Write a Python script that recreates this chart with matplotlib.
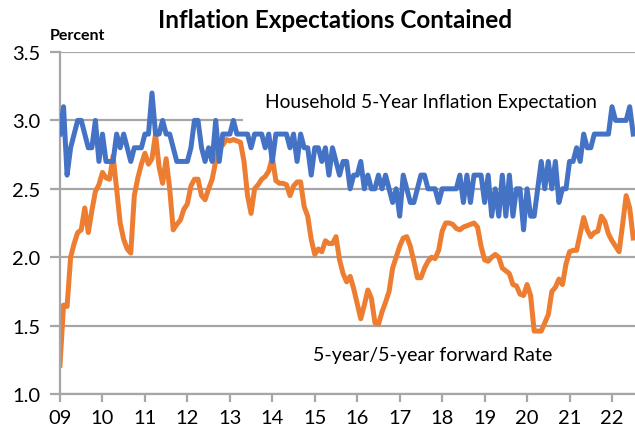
import numpy as np
import matplotlib
matplotlib.use('Agg')
import matplotlib.pyplot as plt
from matplotlib.patches import Rectangle

plt.rcParams['font.family'] = ['Lato', 'DejaVu Sans']

# monthly data, Jan 2009 .. Jul 2022
household = [
    2.9, 3.1, 2.6, 2.8, 2.9, 3.0, 3.0, 2.9, 2.8, 2.8, 3.0, 2.7,   # 2009
    2.9, 2.7, 2.7, 2.7, 2.9, 2.8, 2.9, 2.8, 2.7, 2.8, 2.8, 2.8,   # 2010
    2.9, 2.9, 3.2, 2.9, 2.9, 3.0, 2.9, 2.9, 2.8, 2.7, 2.7, 2.7,   # 2011
    2.7, 2.8, 3.0, 3.0, 2.8, 2.7, 2.8, 2.7, 3.0, 2.7, 2.9, 2.9,   # 2012
    2.9, 3.0, 2.9, 2.9, 2.9, 2.9, 2.8, 2.9, 2.9, 2.9, 2.8, 2.9,   # 2013
    2.7, 2.9, 2.9, 2.9, 2.9, 2.8, 2.9, 2.7, 2.9, 2.8, 2.8, 2.6,   # 2014
    2.8, 2.8, 2.7, 2.8, 2.6, 2.8, 2.7, 2.6, 2.7, 2.7, 2.5, 2.6,   # 2015
    2.6, 2.7, 2.5, 2.6, 2.5, 2.5, 2.6, 2.5, 2.6, 2.5, 2.4, 2.5,   # 2016
    2.3, 2.6, 2.5, 2.4, 2.4, 2.5, 2.6, 2.6, 2.5, 2.5, 2.5, 2.4,   # 2017
    2.5, 2.5, 2.5, 2.5, 2.5, 2.6, 2.4, 2.6, 2.4, 2.6, 2.6, 2.6,   # 2018
    2.4, 2.6, 2.3, 2.5, 2.3, 2.6, 2.3, 2.6, 2.3, 2.5, 2.5, 2.2,   # 2019
    2.5, 2.3, 2.3, 2.5, 2.7, 2.5, 2.7, 2.5, 2.7, 2.4, 2.5, 2.5,   # 2020
    2.7, 2.7, 2.8, 2.7, 2.9, 2.8, 2.8, 2.9, 2.9, 2.9, 2.9, 2.9,   # 2021
    3.1, 3.0, 3.0, 3.0, 3.0, 3.1, 2.9,                            # 2022
]
forward = [
    1.21, 1.65, 1.64, 2.00, 2.10, 2.18, 2.20, 2.36, 2.18, 2.34, 2.48, 2.53,   # 2009
    2.62, 2.58, 2.57, 2.74, 2.50, 2.25, 2.13, 2.06, 2.03, 2.45, 2.58, 2.68,   # 2010
    2.76, 2.68, 2.72, 2.90, 2.66, 2.54, 2.72, 2.50, 2.20, 2.24, 2.27, 2.35,   # 2011
    2.39, 2.52, 2.57, 2.57, 2.45, 2.42, 2.50, 2.57, 2.70, 2.81, 2.82, 2.86,   # 2012
    2.85, 2.86, 2.85, 2.84, 2.70, 2.45, 2.32, 2.50, 2.53, 2.57, 2.59, 2.63,   # 2013
    2.73, 2.56, 2.54, 2.54, 2.53, 2.45, 2.52, 2.55, 2.55, 2.37, 2.30, 2.13,   # 2014
    2.02, 2.06, 2.04, 2.12, 2.10, 2.10, 2.15, 1.98, 1.88, 1.82, 1.86, 1.77,   # 2015
    1.66, 1.55, 1.65, 1.76, 1.70, 1.52, 1.51, 1.60, 1.67, 1.75, 1.92, 2.00,   # 2016
    2.08, 2.14, 2.15, 2.08, 1.97, 1.85, 1.85, 1.92, 1.97, 2.00, 1.99, 2.05,   # 2017
    2.19, 2.25, 2.25, 2.24, 2.21, 2.20, 2.22, 2.23, 2.24, 2.25, 2.22, 2.08,   # 2018
    1.98, 1.97, 2.00, 2.02, 2.00, 1.92, 1.90, 1.88, 1.80, 1.79, 1.73, 1.72,   # 2019
    1.80, 1.72, 1.46, 1.46, 1.46, 1.52, 1.58, 1.75, 1.78, 1.84, 1.80, 1.95,   # 2020
    2.04, 2.05, 2.05, 2.17, 2.29, 2.20, 2.15, 2.18, 2.19, 2.30, 2.26, 2.17,   # 2021
    2.12, 2.08, 2.04, 2.24, 2.45, 2.36, 2.14,                                 # 2022
]
years = list(range(2009, 2023))
year_labels = ['%02d' % (y % 100) for y in years]

t = 2009 + np.arange(len(household)) / 12.0

fig = plt.figure(figsize=(6.35, 4.31), dpi=100)
ax = fig.add_axes([60 / 635, 36 / 431, 575 / 635, 342 / 431])

grid_c = '#a6a6a6'
ax.set_ylim(1.0, 3.5)
ax.set_xlim(2009, 2009 + 162.5 / 12)
ax.set_yticks([1.0, 1.5, 2.0, 2.5, 3.0, 3.5])
ax.set_yticklabels(['%.1f' % v for v in [1.0, 1.5, 2.0, 2.5, 3.0, 3.5]], fontsize=14.5)
ax.set_xticks(years)
ax.set_xticklabels(year_labels, fontsize=14.5)
ax.grid(axis='y', color=grid_c, lw=1.6, zorder=0.5)
ax.set_axisbelow(True)
for s in ['top', 'right']:
    ax.spines[s].set_visible(False)
for s in ['left', 'bottom']:
    ax.spines[s].set_color(grid_c)
    ax.spines[s].set_linewidth(1.6)
ax.tick_params(axis='y', length=7, width=1.6, color=grid_c, pad=7)
ax.tick_params(axis='x', length=6, width=1.6, color=grid_c, pad=5)

# white label box hiding part of the 3.0 gridline
ax.add_patch(Rectangle((2009 + 183.5 / 42.5, 2.96), 10, 0.4, facecolor='white',
                       edgecolor='none', zorder=1))

ax.plot(t, household, color='#4472C4', lw=3.6, zorder=3, solid_joinstyle='round')
ax.plot(t, forward, color='#ED7D31', lw=3.6, zorder=2, solid_joinstyle='round')

ax.text(2009 + 205 / 42.5, 3.14, 'Household 5-Year Inflation Expectation',
        fontsize=13.8, va='center', ha='left', zorder=2)
ax.text(2009 + 253 / 42.5, 1.29, '5-year/5-year forward Rate',
        fontsize=14.1, va='center', ha='left', zorder=2)

fig.text(335 / 635, 1 - 20 / 431, 'Inflation Expectations Contained',
         fontsize=17.5, fontweight='bold', ha='center', va='center')
fig.text(50 / 635, 1 - 36 / 431, 'Percent', fontsize=11.5, fontweight='bold',
         ha='left', va='center')

fig.savefig('out.png', dpi=100)
